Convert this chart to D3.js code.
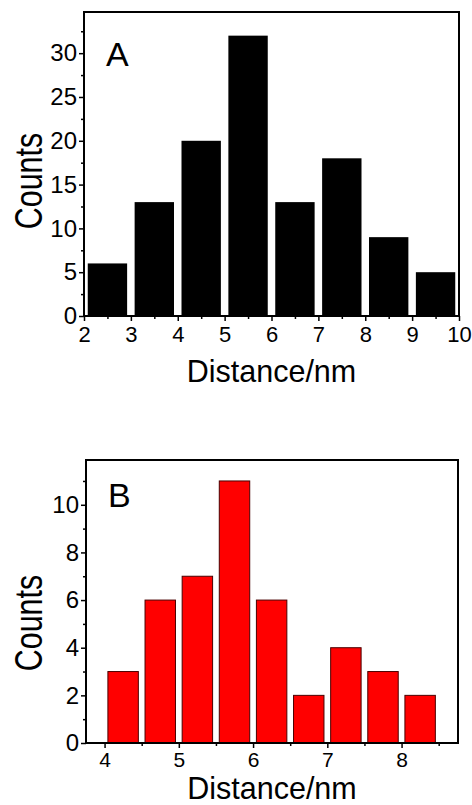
<!DOCTYPE html>
<html>
<head>
<meta charset="utf-8">
<script src="https://cdn.jsdelivr.net/npm/d3@7"></script>
<style>
  html, body { margin: 0; padding: 0; background: #fff; }
  svg { display: block; }
  text { font-family: "Liberation Sans", Arial, sans-serif; fill: #000; }
</style>
</head>
<body>
<svg id="svg" width="472" height="805"></svg>
<script>
// panel A: bins of 1 nm from 2 to 10
var binStartsA = [2, 3, 4, 5, 6, 7, 8, 9];
var countsA = [6, 13, 20, 32, 13, 18, 9, 5];
var yTicksA = [0, 5, 10, 15, 20, 25, 30];
var yMinorA = [2.5, 7.5, 12.5, 17.5, 22.5, 27.5, 32.5];
var xTicksA = [2, 3, 4, 5, 6, 7, 8, 9, 10];
var xMinorA = [2.5, 3.5, 4.5, 5.5, 6.5, 7.5, 8.5, 9.5];

// panel B: bins of 0.5 nm from 4 to 8.5
var binStartsB = [4, 4.5, 5, 5.5, 6, 6.5, 7, 7.5, 8];
var countsB = [3, 6, 7, 11, 6, 2, 4, 3, 2];
var yTicksB = [0, 2, 4, 6, 8, 10];
var yMinorB = [1, 3, 5, 7, 9, 11];
var xTicksB = [4, 5, 6, 7, 8];
var xMinorB = [4.5, 5.5, 6.5, 7.5, 8.5];

var svg = d3.select("#svg");

var panels = [
  {
    label: "A", bins: binStartsA, counts: countsA, binW: 1, barW: 0.84,
    xDom: [2, 10], yDom: [0, 34.7],
    left: 84, top: 12, right: 459, bottom: 316,
    yTicks: yTicksA, yMinor: yMinorA, xTicks: xTicksA, xMinor: xMinorA,
    fill: "#000", stroke: "none",
    tickBase: 26, tickSize: "22px", titleBase: 66, countsY: 181, letterY: 66
  },
  {
    label: "B", bins: binStartsB, counts: countsB, binW: 0.5, barW: 0.41,
    xDom: [3.75, 8.76], yDom: [0, 11.88],
    left: 86, top: 460, right: 458, bottom: 743,
    yTicks: yTicksB, yMinor: yMinorB, xTicks: xTicksB, xMinor: xMinorB,
    fill: "#ff0000", stroke: "#4a0000",
    tickBase: 24, tickSize: "21px", titleBase: 56, countsY: 623, letterY: 507
  }
];

panels.forEach(function(p){ drawPanel(svg, p); });

function drawPanel(parent, p){
  var x = d3.scaleLinear().domain(p.xDom).range([p.left, p.right]);
  var y = d3.scaleLinear().domain(p.yDom).range([p.bottom, p.top]);
  var fmt = d3.format("d");
  var g = parent.append("g");

  // bars
  g.selectAll("rect.bar")
    .data(p.counts)
    .enter()
    .append("rect")
    .attr("class", "bar")
    .attr("x", function(d, i){ return x(p.bins[i] + p.binW / 2 - p.barW / 2); })
    .attr("width", function(d, i){ return x(p.bins[i] + p.binW / 2 + p.barW / 2) - x(p.bins[i] + p.binW / 2 - p.barW / 2); })
    .attr("y", function(d){ return y(d); })
    .attr("height", function(d){ return y(0) - y(d); })
    .attr("fill", p.fill)
    .attr("stroke", p.stroke)
    .attr("stroke-width", 1);

  // y axis, major + minor
  var yAx = g.append("g")
    .attr("transform", "translate(" + p.left + ",0)")
    .call(d3.axisLeft(y).tickValues(p.yTicks).tickFormat(fmt).tickSize(5).tickPadding(2));
  g.append("g")
    .attr("transform", "translate(" + p.left + ",0)")
    .call(d3.axisLeft(y).tickValues(p.yMinor).tickSize(3).tickFormat(""));

  // x axis, major + minor
  var xAx = g.append("g")
    .attr("transform", "translate(0," + p.bottom + ")")
    .call(d3.axisBottom(x).tickValues(p.xTicks).tickFormat(fmt).tickSize(5).tickPadding(3));
  g.append("g")
    .attr("transform", "translate(0," + p.bottom + ")")
    .call(d3.axisBottom(x).tickValues(p.xMinor).tickSize(3).tickFormat(""));

  g.selectAll(".domain").remove();
  g.selectAll(".tick line").attr("stroke", "#000").attr("stroke-width", 1.5);

  yAx.attr("font-size", null).attr("font-family", null);
  xAx.attr("font-size", null).attr("font-family", null);
  yAx.selectAll("text")
    .style("font-size", "24px");
  xAx.selectAll("text")
    .style("font-size", p.tickSize)
    .attr("dy", null)
    .attr("y", p.tickBase);

  // frame
  g.append("rect")
    .attr("x", p.left)
    .attr("y", p.top)
    .attr("width", p.right - p.left)
    .attr("height", p.bottom - p.top)
    .attr("fill", "none")
    .attr("stroke", "#000")
    .attr("stroke-width", 2);

  // panel letter
  g.append("text")
    .attr("x", p.left + 22)
    .attr("y", p.letterY)
    .style("font-size", "34px")
    .text(p.label);

  // axis titles
  g.append("text")
    .attr("x", (p.left + p.right) / 2)
    .attr("y", p.bottom + p.titleBase)
    .attr("text-anchor", "middle")
    .style("font-size", "30.5px")
    .text("Distance/nm");

  g.append("text")
    .attr("transform", "translate(42," + p.countsY + ") rotate(-90) scale(0.8,1)")
    .attr("text-anchor", "middle")
    .style("font-size", "38px")
    .text("Counts");
}
</script>
</body>
</html>
